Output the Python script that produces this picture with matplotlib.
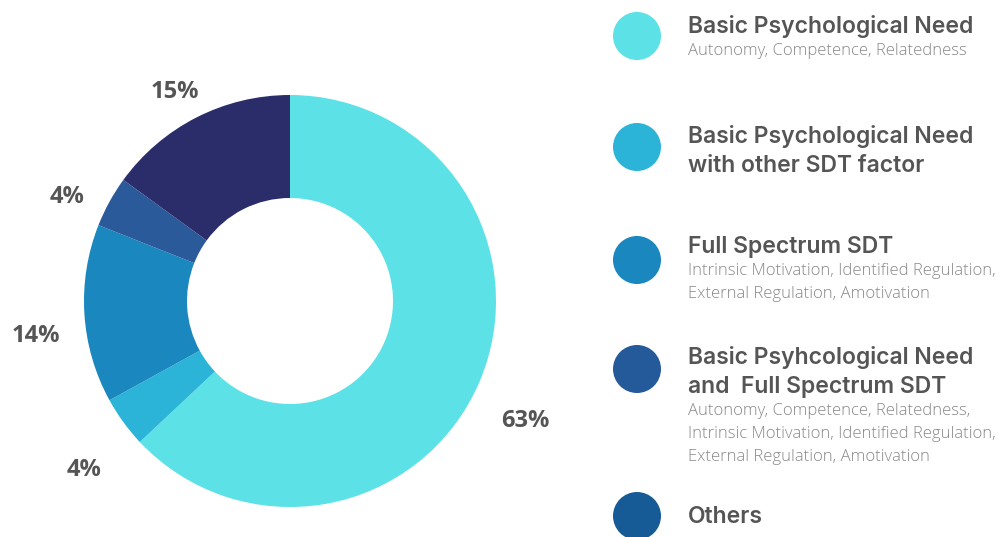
import matplotlib.pyplot as plt
from matplotlib.patches import Circle
from matplotlib.transforms import ScaledTranslation

# share of studies per SDT measurement type (percent)
categories = [
    "Basic Psychological Need",
    "Basic Psychological Need with other SDT factor",
    "Full Spectrum SDT",
    "Basic Psyhcological Need and  Full Spectrum SDT",
    "Others",
]
shares = [63, 4, 14, 4, 15]
slice_colors = ["#5ce1e6", "#2bb4d7", "#1a87be", "#2a5a9a", "#2b2d6b"]
legend_colors = ["#5ce1e6", "#2bb4d7", "#1a87be", "#24599a", "#165b96"]

# legend text, one list of lines per entry
legend_titles = [
    ["Basic Psychological Need"],
    ["Basic Psychological Need", "with other SDT factor"],
    ["Full Spectrum SDT"],
    ["Basic Psyhcological Need", "and  Full Spectrum SDT"],
    ["Others"],
]
legend_subs = [
    ["Autonomy, Competence, Relatedness"],
    [],
    ["Intrinsic Motivation, Identified Regulation,", "External Regulation, Amotivation"],
    ["Autonomy, Competence, Relatedness,", "Intrinsic Motivation, Identified Regulation,",
     "External Regulation, Amotivation"],
    [],
]

W, H = 1008, 537
fig = plt.figure(figsize=(W / 100, H / 100), dpi=100)
fig.patch.set_facecolor("white")

# donut: centre (290, 301) px, outer radius 206 px
cx, cy, rad = 290, 301, 206
side = 600
R = side / 2 / rad
ax = fig.add_axes([(cx - side / 2) / W, (H - cy - side / 2) / H, side / W, side / H])
wedges, texts, pcts = ax.pie(
    shares, colors=slice_colors, startangle=90, counterclock=False,
    wedgeprops=dict(width=0.5, linewidth=0),
    autopct=lambda p: f"{p:.0f}%", pctdistance=1.24,
    textprops=dict(fontsize=17, fontweight="bold", color="#555555", family="Open Sans"))
# percentage labels sit a little below their radial position
shift = ScaledTranslation(1 / 100, -19 / 100, fig.dpi_scale_trans)
for t in pcts:
    t.set_transform(t.get_transform() + shift)
ax.set_xlim(-R, R)
ax.set_ylim(-R, R)
ax.set_aspect("equal")
ax.axis("off")

# legend drawn in pixel coordinates
lx = fig.add_axes([0, 0, 1, 1])
lx.set_xlim(0, W)
lx.set_ylim(H, 0)
lx.axis("off")

circle_y = [36, 147, 260, 369, 516]
title_base = [33, 143, 253, 364, 523]
title_gap = 29
sub_gap = 23

for i in range(len(categories)):
    lx.add_patch(Circle((637, circle_y[i]), 24, color=legend_colors[i], lw=0))
    y = title_base[i]
    for j, line in enumerate(legend_titles[i]):
        y = title_base[i] + j * title_gap
        lx.text(688, y, line, fontsize=16.5, fontweight="semibold", color="#555555",
                family="Inter", va="baseline", ha="left")
    for k, line in enumerate(legend_subs[i]):
        lx.text(688, y + 22 + k * sub_gap, line, fontsize=12, fontweight="light",
                color="#888888", family="Open Sans", va="baseline", ha="left")

fig.savefig("out.png", dpi=100, facecolor="white")
